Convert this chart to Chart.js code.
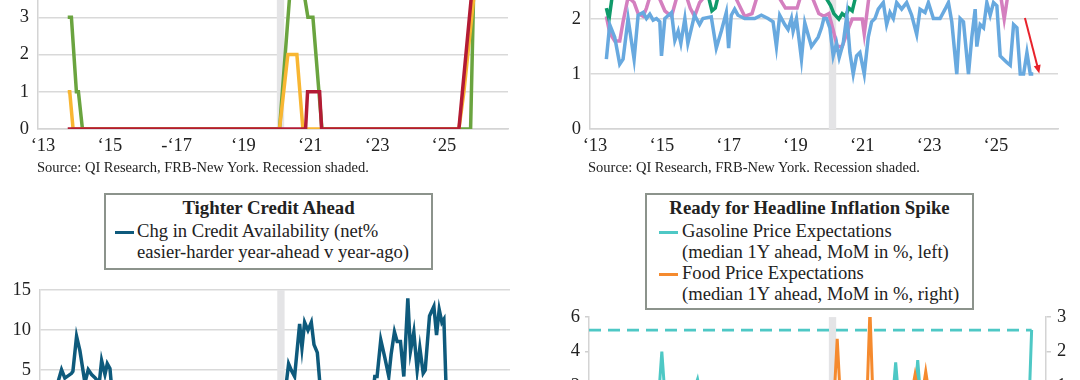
<!DOCTYPE html>
<html>
<head>
<meta charset="utf-8">
<script src="https://cdn.jsdelivr.net/npm/chart.js@4.4.1/dist/chart.umd.min.js"></script>
<style>
  html, body { margin: 0; padding: 0; background: #fff; }
  #page { position: relative; width: 1080px; height: 380px; overflow: hidden; font-family: "Liberation Serif", serif; color: #222; }
  canvas { position: absolute; }
  .src { position: absolute; font-size: 14.5px; line-height: 18px; white-space: nowrap; }
  .box { position: absolute; border: 2px solid #8c938c; box-sizing: border-box; background: #fff; }
  .t { position: absolute; font-size: 18.6px; line-height: 20.5px; white-space: nowrap; }
  .ttl { font-weight: bold; font-size: 18.8px; line-height: 22px; text-align: center; }
  .sw { position: absolute; width: 19px; height: 3px; }
</style>
</head>
<body>
<div id="page">
  <canvas id="tl" width="540" height="199" style="left:0;top:-40px"></canvas>
  <canvas id="tr" width="540" height="215" style="left:540px;top:-56px"></canvas>
  <canvas id="bl" width="540" height="289" style="left:0;top:270px"></canvas>
  <canvas id="br" width="540" height="185" style="left:540px;top:300px"></canvas>

  <div class="src" style="left:37px;top:158px">Source: QI Research, FRB-New York. Recession shaded.</div>
  <div class="src" style="left:588px;top:158px">Source: QI Research, FRB-New York. Recession shaded.</div>

  <div class="box" style="left:104px;top:193px;width:329px;height:77px"></div>
  <div class="t ttl" style="left:104px;width:329px;top:197px">Tighter Credit Ahead</div>
  <div class="sw" style="left:115px;top:231px;background:#0e5a7c"></div>
  <div class="t" style="left:137px;top:221px">Chg in Credit Availability (net%<br>easier-harder year-ahead v year-ago)</div>

  <div class="box" style="left:645px;top:193px;width:329px;height:117px"></div>
  <div class="t ttl" style="left:645px;width:329px;top:197px">Ready for Headline Inflation Spike</div>
  <div class="sw" style="left:659px;top:231px;background:#4ec8c5"></div>
  <div class="t" style="left:682px;top:221px">Gasoline Price Expectations<br>(median 1Y ahead, MoM in %, left)</div>
  <div class="sw" style="left:659px;top:273px;background:#f58a2e"></div>
  <div class="t" style="left:682px;top:263px">Food Price Expectations<br>(median 1Y ahead, MoM in %, right)</div>
</div>

<script>
// x positions are decimal years
const yearTicks = [2013, 2015, 2017, 2019, 2021, 2023, 2025];
const leftYearLabels = ['‘13', '‘15', '-‘17', '‘19', '‘21', '‘23', '‘25'];
const rightYearLabels = ['‘13', '‘15', '‘17', '‘19', '‘21', '‘23', '‘25'];
const recession = [2020.0, 2020.22];

// top left: counts
const countRed = [[2013.74,0],[2020.86,0],[2020.92,1],[2021.28,1],[2021.34,0],[2025.45,0],[2025.87,4],[2026.1,4]];
const countYellow = [[2013.74,1],[2013.8,1],[2013.9,0],[2020.08,0],[2020.33,2],[2020.6,2],[2020.78,0],[2025.45,0],[2025.6,1],[2025.95,4],[2026.1,4]];
const countGreen = [[2013.74,3],[2013.85,3],[2014.0,1],[2014.06,1],[2014.18,0],[2020.08,0],[2020.42,4],[2020.75,4],[2020.93,3],[2021.08,3],[2021.35,0],[2025.8,0],[2025.9,4],[2026.1,4]];

// top right: expectations
const expBlue = [[2013.34,1.27],[2013.44,1.9],[2013.59,1.67],[2013.74,1.18],[2013.84,1.27],[2013.99,2.01],[2014.17,1.27],[2014.29,2.07],
  [2014.44,2.12],[2014.54,2.01],[2014.64,2.09],[2014.74,1.98],[2014.84,2.01],[2014.94,1.95],[2014.99,1.33],[2015.09,2.01],[2015.29,2.12],
  [2015.39,1.61],[2015.49,1.78],[2015.57,1.56],[2015.69,2.01],[2015.78,1.56],[2015.98,2.07],[2016.13,1.9],[2016.23,2.01],[2016.48,2.04],
  [2016.63,1.47],[2016.78,1.78],[2016.93,2.12],[2017.0,1.47],[2017.08,2.07],[2017.18,2.18],[2017.28,2.07],[2017.48,2.01],[2017.78,2.01],
  [2017.98,2.07],[2018.18,2.01],[2018.33,1.95],[2018.43,1.5],[2018.53,2.07],[2018.68,1.9],[2018.78,1.81],[2018.88,2.01],[2018.93,1.78],
  [2019.03,2.01],[2019.18,1.27],[2019.28,1.93],[2019.48,1.5],[2019.68,1.67],[2019.78,1.84],[2019.85,2.01],[2019.93,2.01],[2020.03,1.84],
  [2020.13,1.33],[2020.23,1.56],[2020.31,1.3],[2020.43,1.56],[2020.54,2.07],[2020.63,1.39],[2020.73,1.0],[2020.83,1.33],[2020.93,1.39],
  [2021.06,1.0],[2021.18,1.67],[2021.28,1.95],[2021.38,2.01],[2021.48,2.18],[2021.63,2.3],[2021.73,1.9],[2021.83,2.12],[2021.93,2.01],
  [2022.03,2.3],[2022.18,2.18],[2022.33,2.3],[2022.48,2.07],[2022.63,1.72],[2022.73,2.18],[2022.88,2.12],[2022.98,2.3],[2023.13,2.01],
  [2023.33,2.01],[2023.48,2.18],[2023.58,2.3],[2023.68,1.95],[2023.83,1.0],[2023.93,2.01],[2024.03,1.95],[2024.18,1.0],[2024.28,1.67],
  [2024.38,2.18],[2024.43,1.5],[2024.53,1.9],[2024.63,1.84],[2024.73,2.3],[2024.83,2.07],[2024.93,2.3],[2025.03,2.24],[2025.13,1.33],
  [2025.23,1.27],[2025.33,1.21],[2025.43,1.16],[2025.53,1.9],[2025.63,1.84],[2025.73,1.0],[2025.83,1.0],[2025.93,1.39],[2026.03,1.0],[2026.12,1.0]];
const expPink = [[2013.34,2.05],[2013.44,1.75],[2013.59,1.6],[2013.74,1.6],[2013.84,1.95],[2013.99,2.4],[2014.17,2.3],[2014.29,2.1],
  [2014.44,2.05],[2014.54,2.2],[2014.64,2.4],[2014.84,2.5],[2015.09,2.15],[2015.29,2.05],[2015.45,2.4],[2015.69,2.5],[2015.85,2.2],
  [2015.98,2.05],[2016.13,2.3],[2016.4,2.5],[2016.7,2.4],[2016.93,2.6],[2017.2,2.4],[2017.48,2.05],[2017.7,2.1],[2017.85,2.4],[2018.1,2.6],
  [2018.4,2.5],[2018.7,2.2],[2018.9,2.2],[2019.05,2.2],[2019.2,2.5],[2019.5,2.4],[2019.7,2.1],[2019.85,2.05],[2020.0,2.1],[2020.13,1.8],
  [2020.25,1.5],[2020.4,1.5],[2020.6,1.85],[2020.7,2.0],[2021.0,2.0],[2021.06,1.73],[2021.2,2.4],[2021.5,2.6],[2022.0,2.8],[2022.5,2.7],
  [2023.0,2.6],[2023.5,2.5],[2024.0,2.5],[2024.5,2.6],[2025.0,2.5],[2025.15,2.4],[2025.25,2.0],[2025.35,2.4],[2025.6,2.6],[2026.1,2.6]];
const expGreen = [[2013.34,2.2],[2013.42,2.0],[2013.5,2.35],[2013.8,2.6],[2014.2,2.5],[2014.6,2.7],[2015.0,2.6],[2015.5,2.5],[2016.0,2.6],
  [2016.4,2.4],[2016.5,2.15],[2016.6,2.2],[2016.7,2.45],[2017.0,2.6],[2017.5,2.5],[2018.0,2.7],[2018.5,2.6],[2019.0,2.5],[2019.5,2.6],
  [2019.9,2.4],[2020.05,2.25],[2020.15,2.1],[2020.3,2.0],[2020.4,2.1],[2020.5,2.05],[2020.6,2.2],[2020.7,2.15],[2020.8,2.4],[2021.0,2.6],
  [2021.5,2.9],[2022.0,3.0],[2022.5,2.9],[2023.0,2.8],[2023.5,2.7],[2024.0,2.7],[2024.5,2.8],[2025.0,2.7],[2025.5,2.7],[2026.1,2.8]];
const arrowFrom = [2025.87, 2.02];
const arrowTo = [2026.3, 1.01];

// bottom left: credit availability
const credit = [[2013.3,1.5],[2013.54,5.0],[2013.64,3.95],[2013.84,4.55],[2013.88,4.8],[2013.99,9.2],[2014.09,7.4],[2014.24,3.35],
  [2014.34,5.0],[2014.44,4.4],[2014.54,4.0],[2014.67,3.35],[2014.74,6.15],[2014.84,4.4],[2014.91,5.75],[2014.99,5.15],[2015.12,-1],
  [2015.5,-4],[2016.0,-3],[2016.5,-5],[2017.0,-4],[2017.5,-6],[2018.0,-5],[2018.5,-4],[2019.0,-6],[2019.5,-3],[2019.9,-5],[2020.12,-2],
  [2020.34,5.75],[2020.42,4.95],[2020.52,4.15],[2020.67,10.75],[2020.74,7.75],[2020.82,10.95],[2020.92,9.95],[2021.02,10.95],[2021.1,8.15],
  [2021.2,7.15],[2021.38,-2],[2021.7,-5],[2022.1,-4],[2022.5,-6],[2022.8,-1],[2022.92,4.15],[2022.99,4.15],[2023.1,8.75],[2023.22,6.55],
  [2023.34,4.15],[2023.41,6.95],[2023.51,9.75],[2023.59,8.55],[2023.69,8.55],[2023.79,4.15],[2023.91,13.95],[2023.99,7.35],[2024.09,9.75],
  [2024.19,4.95],[2024.27,7.75],[2024.37,4.55],[2024.43,4.95],[2024.56,11.75],[2024.69,12.95],[2024.77,9.35],[2024.85,12.55],[2024.93,10.95],
  [2024.99,11.35],[2025.1,-3],[2025.4,-5],[2025.7,-8],[2026.1,-10]];

// bottom right: gasoline (left) and food (right) price expectations
const gasoline = [[2013.34,1.0],[2013.6,0.6],[2013.9,1.2],[2014.2,0.4],[2014.5,1.0],[2014.8,0.5],[2014.92,1.8],[2015.0,4.0],[2015.08,1.8],
  [2015.4,1.1],[2015.7,0.5],[2015.99,1.9],[2016.07,2.39],[2016.15,1.6],[2016.5,1.2],[2017.0,0.5],[2017.5,1.0],[2018.0,0.7],[2018.5,1.3],
  [2019.0,0.4],[2019.5,1.0],[2020.0,0.3],[2020.3,1.2],[2020.8,0.6],[2021.2,1.5],[2021.6,1.0],[2021.92,1.5],[2022.0,3.37],[2022.08,1.5],
  [2022.4,0.8],[2022.58,1.5],[2022.66,3.51],[2022.74,1.5],[2023.2,0.6],[2023.7,1.1],[2024.2,0.5],[2024.7,1.0],[2025.2,0.7],[2025.6,1.2],
  [2025.99,0.8],[2026.07,5.25]];
const gasolineLatest = [[2012.82,5.25],[2026.07,5.25]];
const food = [[2013.34,0.5],[2014.0,0.6],[2015.0,0.4],[2016.0,0.5],[2017.0,0.4],[2018.0,0.6],[2019.0,0.5],[2020.17,0.9],[2020.25,2.37],
  [2020.33,0.9],[2020.7,0.7],[2021.15,0.9],[2021.23,3.2],[2021.31,0.9],[2021.8,0.8],[2022.5,0.9],[2022.58,1.33],[2022.66,0.9],[2022.82,0.9],
  [2022.9,1.42],[2022.98,0.9],[2023.5,0.7],[2024.0,0.6],[2024.5,0.5],[2025.0,0.6],[2025.5,0.7],[2026.07,0.6]];

Chart.defaults.font.family = '"Liberation Serif", serif';
Chart.defaults.color = '#222';
const tickFont = { size: 18.5 };
const pts = a => a.map(([x, y]) => ({ x, y }));

function yearAxis(min, max, labels) {
  return {
    type: 'linear', min, max,
    afterBuildTicks: s => { s.ticks = yearTicks.map(v => ({ value: v })); },
    afterFit: s => { s.height = 30; },
    grid: { display: false, drawTicks: false },
    border: { display: true, color: '#d4d4d4', width: 1.5 },
    ticks: { autoSkip: false, maxRotation: 0, padding: 6, font: tickFont, callback: (v, i) => labels[i] }
  };
}

function valueAxis(min, max, step, width) {
  return {
    min, max,
    afterFit: s => { s.width = width; },
    ticks: { stepSize: step, padding: 9, font: tickFont },
    grid: { color: '#d9d9d9', lineWidth: 1.5, drawTicks: false },
    border: { display: true, color: '#d4d4d4', width: 1.5 }
  };
}

function line(data, color, width, extra) {
  return Object.assign({ data: pts(data), borderColor: color, borderWidth: width, pointRadius: 0, tension: 0, fill: false }, extra || {});
}

const shadePlugin = {
  id: 'shade',
  beforeDatasetsDraw(chart) {
    const { ctx, chartArea: a, scales: { x } } = chart;
    const x0 = x.getPixelForValue(recession[0]);
    const x1 = x.getPixelForValue(recession[1]);
    ctx.save();
    ctx.fillStyle = '#e4e4e6';
    ctx.fillRect(x0, a.top, x1 - x0, a.bottom - a.top);
    ctx.restore();
  }
};

const arrowPlugin = {
  id: 'arrow',
  afterDatasetsDraw(chart) {
    const { ctx, scales: { x, y } } = chart;
    const x0 = x.getPixelForValue(arrowFrom[0]), y0 = y.getPixelForValue(arrowFrom[1]);
    const x1 = x.getPixelForValue(arrowTo[0]), y1 = y.getPixelForValue(arrowTo[1]);
    const ang = Math.atan2(y1 - y0, x1 - x0);
    ctx.save();
    ctx.strokeStyle = ctx.fillStyle = '#e8222b';
    ctx.lineWidth = 2;
    ctx.beginPath();
    ctx.moveTo(x0, y0);
    ctx.lineTo(x1 - 6 * Math.cos(ang), y1 - 6 * Math.sin(ang));
    ctx.stroke();
    ctx.beginPath();
    ctx.moveTo(x1, y1);
    ctx.lineTo(x1 - 9 * Math.cos(ang - 0.4), y1 - 9 * Math.sin(ang - 0.4));
    ctx.lineTo(x1 - 9 * Math.cos(ang + 0.4), y1 - 9 * Math.sin(ang + 0.4));
    ctx.closePath();
    ctx.fill();
    ctx.restore();
  }
};

function makeChart(id, datasets, scales, padding, plugins) {
  return new Chart(document.getElementById(id), {
    type: 'line',
    data: { datasets },
    options: {
      responsive: false,
      animation: false,
      devicePixelRatio: 1,
      layout: { padding },
      plugins: { legend: { display: false }, tooltip: { enabled: false } },
      scales
    },
    plugins
  });
}

// top left
makeChart('tl', [
  line(countRed, '#b31b34', 3.5),
  line(countYellow, '#f8b632', 3.5),
  line(countGreen, '#6aa43f', 3.5)
], {
  x: yearAxis(2012.85, 2026.92, leftYearLabels),
  y: valueAxis(0, 4, 1, 38)
}, { top: 11, right: 32, left: 0, bottom: 0 }, [shadePlugin]);

// top right
makeChart('tr', [
  line(expBlue, '#68a9df', 3.5),
  line(expGreen, '#0f9a6a', 3.5),
  line(expPink, '#d47fbf', 3.5)
], {
  x: yearAxis(2012.85, 2026.86, rightYearLabels),
  y: valueAxis(0, 3, 1, 50)
}, { top: 11, right: 22, left: 0, bottom: 0 }, [shadePlugin, arrowPlugin]);

// bottom left
makeChart('bl', [
  line(credit, '#0e5a7c', 3.5)
], {
  x: yearAxis(2012.895, 2026.97, leftYearLabels),
  y: valueAxis(-15, 15, 5, 40)
}, { top: 9, right: 30, left: 0, bottom: 0 }, [shadePlugin]);

// bottom right
const brLeft = valueAxis(-2, 6, 2, 49);
brLeft.grid = { drawOnChartArea: false, drawTicks: true, tickLength: 4, color: '#cfcfcf', lineWidth: 1.5 };
brLeft.ticks.padding = 5;
const brRight = valueAxis(-1, 3, 1, 34);
brRight.position = 'right';
brRight.grid = { drawOnChartArea: false, drawTicks: true, tickLength: 5, color: '#cfcfcf', lineWidth: 1.5 };
brRight.ticks.padding = 6;
makeChart('br', [
  line(gasolineLatest, '#4ec8c5', 2.8, { borderDash: [12, 7], yAxisID: 'y' }),
  line(food, '#f58a2e', 3, { yAxisID: 'y1' }),
  line(gasoline, '#4ec8c5', 3, { yAxisID: 'y' })
], {
  x: yearAxis(2012.82, 2026.5, rightYearLabels),
  y: brLeft,
  y1: brRight
}, { top: 12, right: 0, left: 0, bottom: 0 }, [shadePlugin]);
</script>
</body>
</html>
